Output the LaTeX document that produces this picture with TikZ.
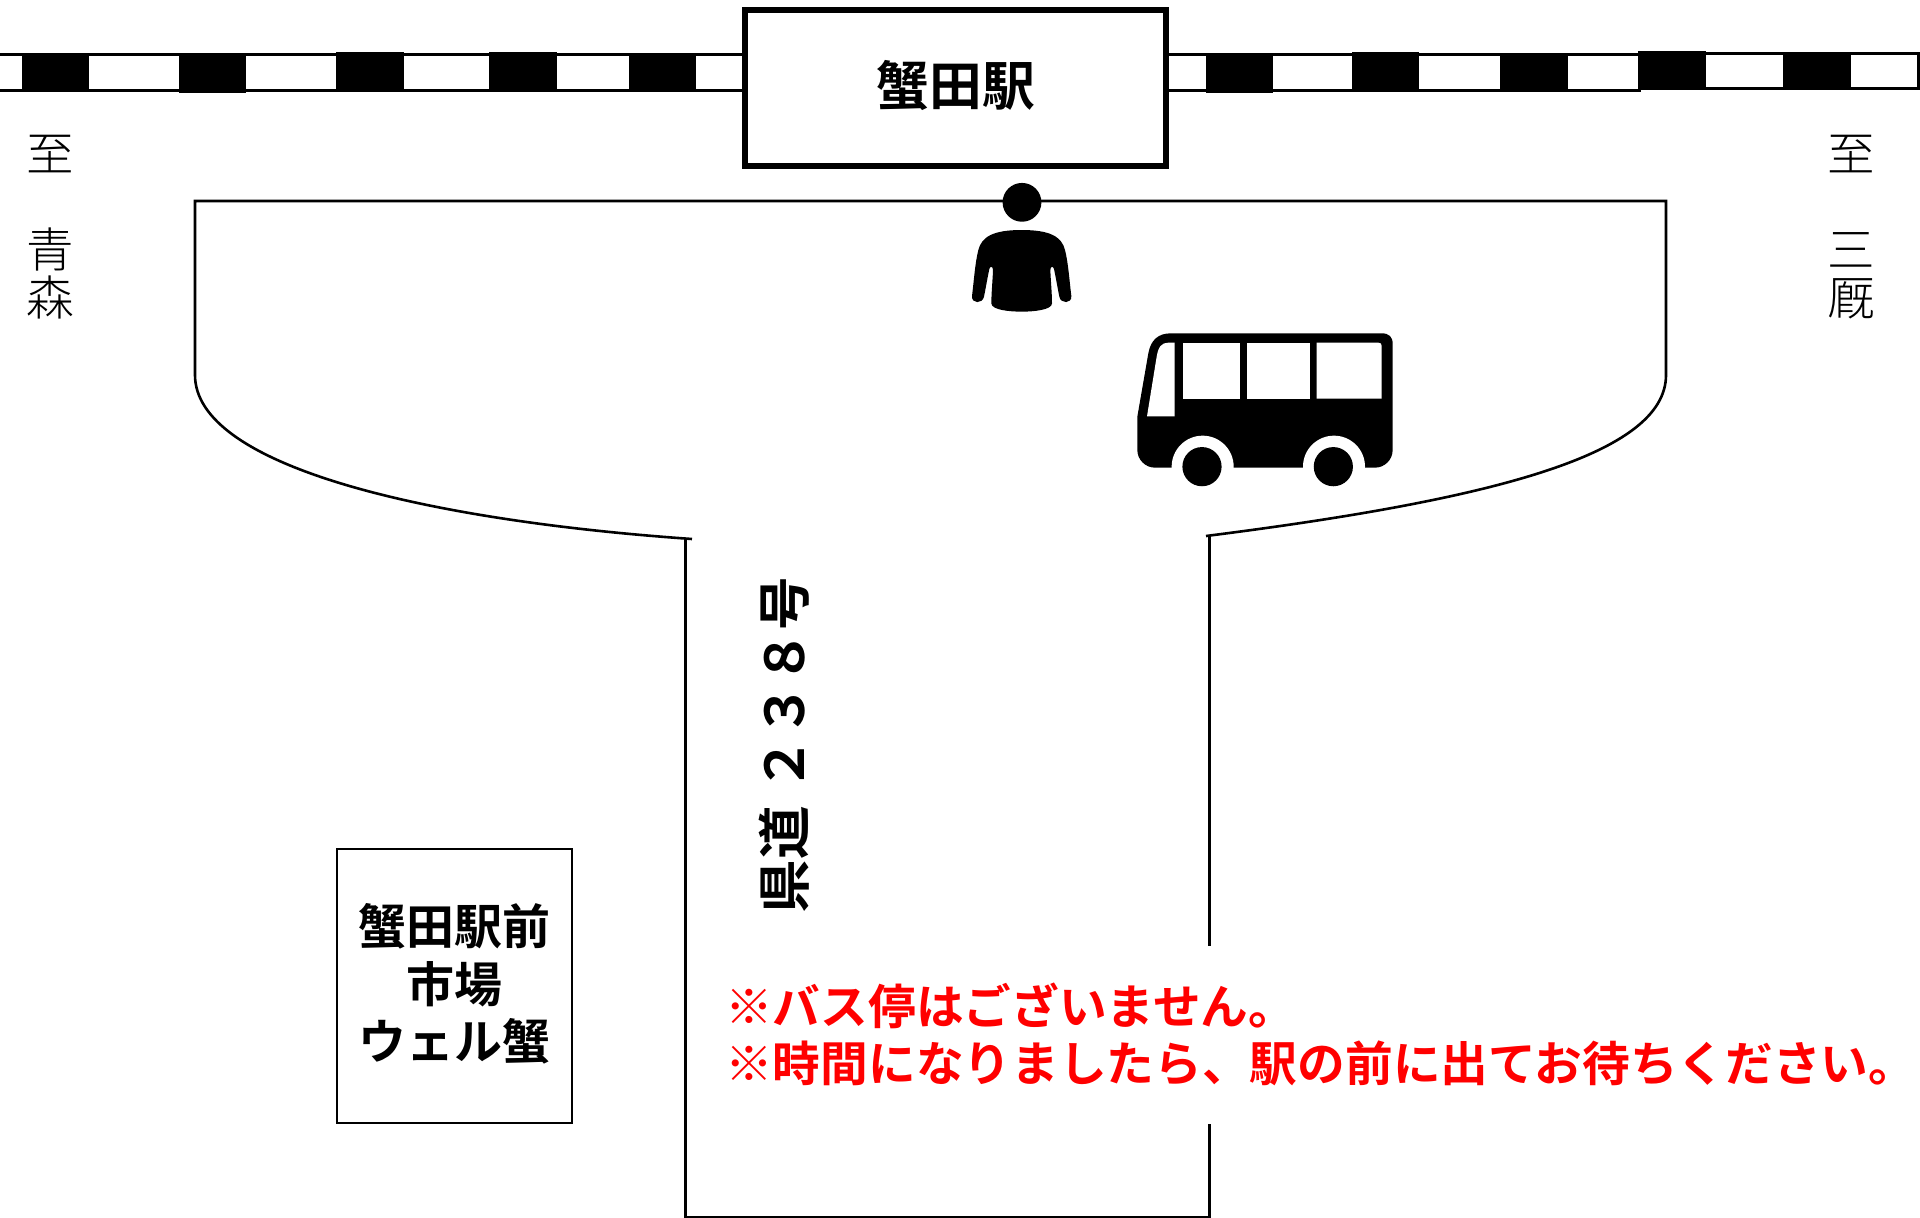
\documentclass[tikz,border=0pt]{standalone}
\usepackage{fontspec}
\newfontfamily\jpbold{Noto Sans CJK JP Bold}
\newfontfamily\jplight{Noto Sans CJK JP Light}
\tikzset{
  road/.style={draw=black,line width=2.6pt},
  railline/.style={draw=black,line width=3pt},
  railblock/.style={fill=black},
  stationbox/.style={draw=black,line width=6pt,fill=white,minimum width=421pt,minimum height=156pt,inner sep=0pt},
  marketbox/.style={draw=black,line width=2.6pt,fill=white,minimum width=235pt,minimum height=274pt,inner sep=0pt},
  markettext/.style={align=center,inner sep=0pt,font=\jpbold\fontsize{48pt}{57.5pt}\selectfont},
  placelabel/.style={align=center,inner sep=0pt,font=\jplight\fontsize{47.5pt}{48pt}\selectfont},
  notice/.style={fill=white,text=red,align=left,inner sep=0pt,font=\jpbold\fontsize{47.7pt}{57.5pt}\selectfont},
  roadlabel/.style={rotate=90,inner sep=0pt,font=\jpbold\fontsize{53.5pt}{60pt}\selectfont}
}
\begin{document}
\begin{tikzpicture}[x=1pt,y=-1pt]
\useasboundingbox (0,0) rectangle (1920,1218);
% railway
\draw[railline] (0,54) -- (745,54);
\draw[railline] (0,90) -- (745,90);
\draw[railline] (1165,54) -- (1639,54) -- (1639,53) -- (1918.5,53) -- (1918.5,88) -- (1639,88) -- (1639,90) -- (1165,90);
\foreach \xa/\xb/\ya/\yb in {22/89/53/91,179/246/54/93,336/404/52/90,489/557/52/90,629/696/53/90,1206/1273/54/93,1352/1419/52/90,1500/1568/53/91,1638/1706/51/89,1783/1851/52/90}
  \fill[railblock] (\xa,\ya) rectangle (\xb,\yb);
\node[stationbox] (station) at (955.5,87.5) {};
\node[inner sep=0pt,font=\jpbold\fontsize{52.8pt}{60pt}\selectfont] (stationname) at (956,85) {蟹田駅};
% forecourt and road
\draw[road] (692,539) .. controls (420,520) and (195,465) .. (195,375) -- (195,201) -- (1666,201) -- (1666,375) .. controls (1666,455) and (1490,500) .. (1206,536);
\draw[road] (685.6,539) -- (685.6,1217) -- (1209.5,1217) -- (1209.5,536);
% person
\begin{scope}[shift={(940,170)},x=0.33333pt,y=-0.33333pt]
\fill (246,97) circle[radius=19.4pt];
\fill (245,180) .. controls (330,180) and (365,200) .. (375,240) .. controls (385,280) and (388,330) .. (394,378) .. controls (396,402) and (362,402) .. (358,380) .. controls (352,350) and (347,320) .. (342,297) .. controls (340,288) and (331,288) .. (331,300) .. controls (332,330) and (336,370) .. (336,400) .. controls (336,420) and (280,425) .. (245,425) .. controls (210,425) and (154,420) .. (154,400) .. controls (154,370) and (158,330) .. (159,300) .. controls (159,288) and (150,288) .. (148,297) .. controls (143,320) and (138,350) .. (132,380) .. controls (128,402) and (94,402) .. (96,378) .. controls (102,330) and (105,280) .. (115,240) .. controls (125,200) and (160,180) .. (245,180) -- cycle;
% bus
\fill (692,490) -- (1325,490) .. controls (1347,490) and (1358,500) .. (1358,522) -- (1358,840) .. controls (1358,869) and (1334,893) .. (1305,893) -- (645,893) .. controls (616,893) and (592,869) .. (592,840) -- (592,740) -- (625,550) .. controls (632,510) and (655,490) .. (692,490) -- cycle;
\fill[white] (730,518) rectangle (900,686);
\fill[white] (921,518) rectangle (1110,686);
\fill[white] (1130,518) -- (1315,518) .. controls (1322,518) and (1325,521) .. (1325,528) -- (1325,686) -- (1130,686) -- cycle;
\fill[white] (704,518) -- (704,739) -- (621,739) -- (650,560) .. controls (655,530) and (665,518) .. (685,518) -- cycle;
\fill[white] (788,890) circle[radius=31pt];
\fill[white] (1182,890) circle[radius=31pt];
\fill (786,890) circle[radius=19.6pt];
\fill (1180,890) circle[radius=19.6pt];
\end{scope}
% labels
\node[placelabel] (aomori) at (50.5,227) {至\\[48pt]青\\森};
\node[placelabel] (minmaya) at (1851,227) {至\\[48pt]三\\厩};
\node[marketbox] (market) at (454.5,986) {};
\node[markettext] (marketname) at (454.5,984) {蟹田駅前\\市場\\ウェル蟹};
\node[roadlabel] (route) at (784,745) {県道\hspace{15pt}２３８号};
\node[notice,minimum height=178pt,text width=1205pt,anchor=west] (note) at (715,1034.5) {\hspace{10pt}※バス停はございません。\\\hspace{10pt}※時間になりましたら、駅の前に出てお待ちください。};
\end{tikzpicture}
\end{document}
